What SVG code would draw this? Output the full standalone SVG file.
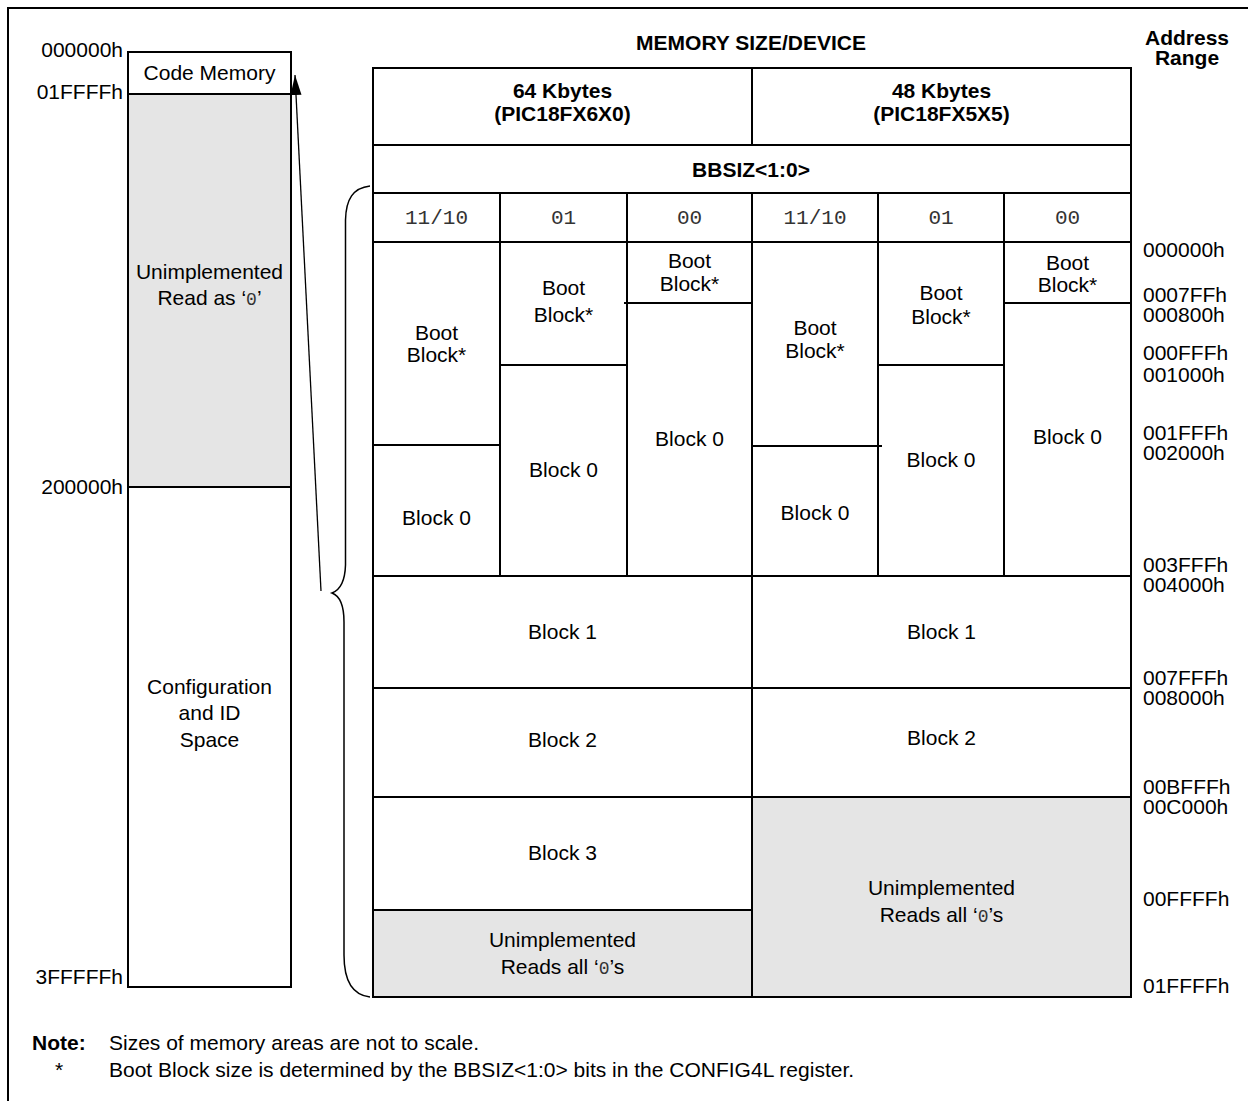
<svg xmlns="http://www.w3.org/2000/svg" width="1248" height="1101" viewBox="0 0 1248 1101">
<style>
.t{font-family:"Liberation Sans",Arial,Helvetica,sans-serif;font-size:21px;fill:#000}
.b{font-weight:bold}
.m{font-family:"Liberation Mono","Courier New",monospace;font-size:21px;fill:#333}
.z{font-family:"Liberation Mono","Courier New",monospace;font-size:18px;fill:#333}
.c{text-anchor:middle}
.r{text-anchor:end}
.ln{stroke:#000;stroke-width:2;fill:none}
.g{fill:#e5e5e5}
</style>
<defs>
<marker id="ah" markerUnits="userSpaceOnUse" markerWidth="22" markerHeight="12" refX="20" refY="5.5" orient="auto">
<path d="M0,0 L20,5.5 L0,11 z" fill="#000"/>
</marker>
</defs>
<rect width="1248" height="1101" fill="#fff"/>
<path class="ln" d="M8,1101 V8 H1248"/>

<g id="left-memory-map">
<rect class="g" x="128" y="94" width="163" height="393"/>
<rect class="ln" x="128" y="52" width="163" height="935"/>
<line class="ln" x1="128" y1="94" x2="291" y2="94"/>
<line class="ln" x1="128" y1="487" x2="291" y2="487"/>
<text class="t c" x="209.5" y="80">Code Memory</text>
<text class="t c" x="209.5" y="279">Unimplemented</text>
<text class="t c" x="209.5" y="305">Read as ‘<tspan class="z">0</tspan>’</text>
<text class="t c" x="209.5" y="694">Configuration</text>
<text class="t c" x="209.5" y="720">and ID</text>
<text class="t c" x="209.5" y="747">Space</text>
<text class="t r" x="123" y="57">000000h</text>
<text class="t r" x="123" y="99">01FFFFh</text>
<text class="t r" x="123" y="494">200000h</text>
<text class="t r" x="123" y="984">3FFFFFh</text>
</g>

<g id="connectors">
<line x1="321" y1="591" x2="295" y2="75" stroke="#000" stroke-width="1.3" marker-end="url(#ah)"/>
<path d="M370,186 C353,188 346,199 345.5,220 L345.5,565 C345,582 340,590 332,593 C340,596 344,606 344,622 L344,955 C344,980 352,995 370,997" fill="none" stroke="#000" stroke-width="1.5"/>
</g>

<g id="header">
<text class="t b c" x="751" y="50">MEMORY SIZE/DEVICE</text>
<text class="t b c" x="1187" y="45">Address</text>
<text class="t b c" x="1187" y="65">Range</text>
</g>

<g id="table-frame">
<rect class="g" x="373" y="910" width="379" height="87"/>
<rect class="g" x="752" y="797" width="379" height="200"/>
<rect class="ln" x="373" y="68" width="758" height="929"/>
<line class="ln" x1="373" y1="145" x2="1131" y2="145"/>
<line class="ln" x1="373" y1="193" x2="1131" y2="193"/>
<line class="ln" x1="373" y1="242" x2="1131" y2="242"/>
<line class="ln" x1="373" y1="576" x2="1131" y2="576"/>
<line class="ln" x1="373" y1="688" x2="1131" y2="688"/>
<line class="ln" x1="373" y1="797" x2="1131" y2="797"/>
<line class="ln" x1="373" y1="910" x2="752" y2="910"/>
<line class="ln" x1="752" y1="68" x2="752" y2="145"/>
<line class="ln" x1="752" y1="193" x2="752" y2="997"/>
<line class="ln" x1="500" y1="193" x2="500" y2="576"/>
<line class="ln" x1="627" y1="193" x2="627" y2="576"/>
<line class="ln" x1="878" y1="193" x2="878" y2="576"/>
<line class="ln" x1="1004" y1="193" x2="1004" y2="576"/>
<line class="ln" x1="373" y1="445" x2="500" y2="445"/>
<line class="ln" x1="500" y1="365" x2="627" y2="365"/>
<line class="ln" x1="624" y1="303" x2="752" y2="303"/>
<line class="ln" x1="752" y1="446" x2="882" y2="446"/>
<line class="ln" x1="878" y1="365" x2="1004" y2="365"/>
<line class="ln" x1="1004" y1="303" x2="1131" y2="303"/>
</g>

<g id="device-headers">
<text class="t b c" x="562.5" y="98">64 Kbytes</text>
<text class="t b c" x="562.5" y="121">(PIC18FX6X0)</text>
<text class="t b c" x="941.5" y="98">48 Kbytes</text>
<text class="t b c" x="941.5" y="121">(PIC18FX5X5)</text>
<text class="t b c" x="751" y="177">BBSIZ&lt;1:0&gt;</text>
<text class="m c" x="436.5" y="224">11/10</text>
<text class="m c" x="563.5" y="224">01</text>
<text class="m c" x="689.5" y="224">00</text>
<text class="m c" x="815" y="224">11/10</text>
<text class="m c" x="941" y="224">01</text>
<text class="m c" x="1067.5" y="224">00</text>
</g>

<g id="col-64k-1110">
<text class="t c" x="436.5" y="340">Boot</text>
<text class="t c" x="436.5" y="362">Block*</text>
<text class="t c" x="436.5" y="525">Block 0</text>
</g>
<g id="col-64k-01">
<text class="t c" x="563.5" y="295">Boot</text>
<text class="t c" x="563.5" y="322">Block*</text>
<text class="t c" x="563.5" y="477">Block 0</text>
</g>
<g id="col-64k-00">
<text class="t c" x="689.5" y="268">Boot</text>
<text class="t c" x="689.5" y="291">Block*</text>
<text class="t c" x="689.5" y="446">Block 0</text>
</g>
<g id="col-48k-1110">
<text class="t c" x="815" y="335">Boot</text>
<text class="t c" x="815" y="358">Block*</text>
<text class="t c" x="815" y="520">Block 0</text>
</g>
<g id="col-48k-01">
<text class="t c" x="941" y="300">Boot</text>
<text class="t c" x="941" y="324">Block*</text>
<text class="t c" x="941" y="467">Block 0</text>
</g>
<g id="col-48k-00">
<text class="t c" x="1067.5" y="270">Boot</text>
<text class="t c" x="1067.5" y="292">Block*</text>
<text class="t c" x="1067.5" y="444">Block 0</text>
</g>

<g id="blocks-64k">
<text class="t c" x="562.5" y="639">Block 1</text>
<text class="t c" x="562.5" y="747">Block 2</text>
<text class="t c" x="562.5" y="860">Block 3</text>
<text class="t c" x="562.5" y="947">Unimplemented</text>
<text class="t c" x="562.5" y="974">Reads all ‘<tspan class="z">0</tspan>’s</text>
</g>
<g id="blocks-48k">
<text class="t c" x="941.5" y="639">Block 1</text>
<text class="t c" x="941.5" y="745">Block 2</text>
<text class="t c" x="941.5" y="895">Unimplemented</text>
<text class="t c" x="941.5" y="922">Reads all ‘<tspan class="z">0</tspan>’s</text>
</g>

<g id="address-range">
<text class="t" x="1143" y="257">000000h</text>
<text class="t" x="1143" y="302">0007FFh</text>
<text class="t" x="1143" y="322">000800h</text>
<text class="t" x="1143" y="360">000FFFh</text>
<text class="t" x="1143" y="382">001000h</text>
<text class="t" x="1143" y="440">001FFFh</text>
<text class="t" x="1143" y="460">002000h</text>
<text class="t" x="1143" y="572">003FFFh</text>
<text class="t" x="1143" y="592">004000h</text>
<text class="t" x="1143" y="685">007FFFh</text>
<text class="t" x="1143" y="705">008000h</text>
<text class="t" x="1143" y="794">00BFFFh</text>
<text class="t" x="1143" y="814">00C000h</text>
<text class="t" x="1143" y="906">00FFFFh</text>
<text class="t" x="1143" y="993">01FFFFh</text>
</g>

<g id="notes">
<text class="t b" x="32" y="1050">Note:</text>
<text class="t" x="109" y="1050">Sizes of memory areas are not to scale.</text>
<text class="t" x="55" y="1077">*</text>
<text class="t" x="109" y="1077">Boot Block size is determined by the BBSIZ&lt;1:0&gt; bits in the CONFIG4L register.</text>
</g>
</svg>
